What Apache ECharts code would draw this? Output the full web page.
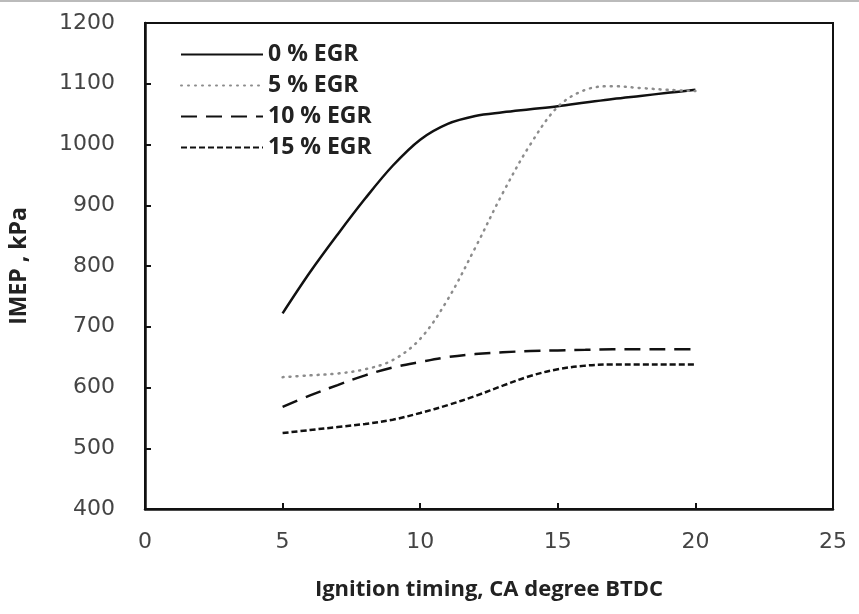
<!DOCTYPE html>
<html>
<head>
<meta charset="utf-8">
<script src="https://cdn.jsdelivr.net/npm/echarts@6/dist/echarts.min.js"></script>
<style>
  html, body { margin: 0; padding: 0; background: #fff; }
  #chart { width: 859px; height: 614px; }
</style>
</head>
<body>
<div id="chart"></div>
<script>
// ignition timing, CA degree BTDC
var timing = [5, 6, 7, 8, 9, 10, 11, 12, 13, 14, 15, 16, 17, 18, 19, 20];
// IMEP in kPa
var egr0  = [722, 790, 852, 911, 965, 1008, 1034, 1047, 1053, 1058, 1063, 1069, 1075, 1080, 1085, 1090];
var egr5  = [617, 620, 623, 630, 645, 680, 745, 830, 920, 1000, 1062, 1090, 1096, 1093, 1090, 1088];
var egr10 = [568, 587, 604, 620, 633, 642, 650, 655, 658, 660, 661, 662, 663, 663, 663, 663];
var egr15 = [525, 530, 535, 540, 547, 558, 571, 586, 603, 619, 630, 636, 638, 638, 638, 638];
var names = ['0 % EGR', '5 % EGR', '10 % EGR', '15 % EGR'];

function pairs(ys) {
    return timing.map(function (x, i) { return [x, ys[i]]; });
}

var chart = echarts.init(document.getElementById('chart'));

function line(name, ys, color, width, dash, cap) {
    return {
        name: name,
        type: 'line',
        data: pairs(ys),
        smooth: 0.35,
        symbol: 'none',
        lineStyle: { color: color, width: width, type: dash, cap: cap || 'butt' },
        itemStyle: { color: color }
    };
}

chart.setOption({
    animation: false,
    graphic: [{
        type: 'rect', left: 0, top: 0,
        shape: { width: 859, height: 2 },
        style: { fill: '#bbb' }
    }],
    grid: {
        left: 143, right: 26, top: 23, bottom: 105,
        show: true, borderColor: '#111', borderWidth: 2
    },
    legend: {
        orient: 'vertical',
        left: 175, top: 38,
        itemWidth: 82, itemHeight: 14, itemGap: 8,
        itemStyle: { opacity: 0 },
        textStyle: { fontFamily: 'Open Sans', fontWeight: 'bold', fontSize: 23, color: '#222' },
        data: names
    },
    xAxis: {
        type: 'value',
        min: 0, max: 25, interval: 5,
        name: 'Ignition timing, CA degree BTDC',
        nameLocation: 'middle', nameGap: 70,
        nameTextStyle: { fontFamily: 'Open Sans', fontWeight: 'bold', fontSize: 22, color: '#222' },
        axisLine: { lineStyle: { color: '#111', width: 2.5 } },
        axisTick: { inside: true, length: 6, lineStyle: { color: '#111', width: 2 } },
        axisLabel: { margin: 22, fontFamily: 'DejaVu Sans', fontSize: 22, color: '#444' },
        splitLine: { show: false }
    },
    yAxis: {
        type: 'value',
        min: 400, max: 1200, interval: 100,
        name: 'IMEP , kPa',
        nameLocation: 'middle', nameGap: 114,
        nameTextStyle: { fontFamily: 'Open Sans', fontWeight: 'bold', fontSize: 23, color: '#222' },
        axisLine: { show: true, lineStyle: { color: '#111', width: 2.5 } },
        axisTick: { show: true, inside: true, length: 6, lineStyle: { color: '#111', width: 2 } },
        axisLabel: {
            margin: 30, fontFamily: 'DejaVu Sans', fontSize: 22, color: '#444',
            formatter: function (v) { return String(v); }
        },
        splitLine: { show: false }
    },
    series: [
        line(names[0], egr0, '#111', 2.5, 'solid'),
        line(names[1], egr5, '#8c8c8c', 2.5, [1, 6], 'round'),
        line(names[2], egr10, '#111', 2.5, [16, 9]),
        line(names[3], egr15, '#111', 2.5, [6, 3])
    ]
});
</script>
</body>
</html>
